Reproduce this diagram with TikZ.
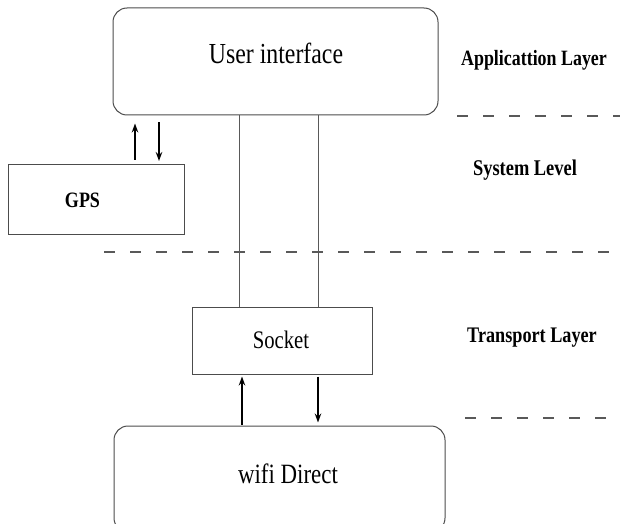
\documentclass[tikz,border=0pt]{standalone}
\usepackage{fontspec}
\setmainfont{Liberation Serif}
\usetikzlibrary{arrows.meta}
% text set slightly taller than its natural shape
\newcommand{\tallset}[1]{\scalebox{1}[1.22]{#1}}
\begin{document}
\begin{tikzpicture}[x=1pt,y=-1pt,
  boxline/.style={draw=black!70, line width=1pt},
  roundbox/.style={boxline, rounded corners=14pt, inner sep=0pt},
  plainbox/.style={boxline, inner sep=0pt},
  boxtext/.style={inner sep=0pt},
  layertext/.style={font=\bfseries, inner sep=0pt},
  link/.style={draw=black!65, line width=0.9pt},
  flow/.style={draw=black, line width=1.6pt, -{Stealth[length=9pt,width=6.5pt]}},
  divider/.style={draw=black!65, line width=1.1pt, dash pattern=on 11pt off 15pt}
]
\useasboundingbox (0,0) rectangle (627,524);

% layer boxes
\node[roundbox, minimum width=325pt, minimum height=107pt] (ui) at (275.5,61.5) {};
\node[boxtext, font=\fontsize{23.8}{26}\selectfont] (uitext) at (276,53) {\tallset{User interface}};

\node[plainbox, minimum width=176pt, minimum height=70pt] (gps) at (96,199.5) {};
\node[boxtext, font=\bfseries\fontsize{18}{20}\selectfont] (gpstext) at (82.5,200) {\tallset{GPS}};

\node[plainbox, minimum width=180pt, minimum height=67pt] (sock) at (282,340.5) {};
\node[boxtext, font=\fontsize{20.7}{23}\selectfont] (socktext) at (281,340) {\tallset{Socket}};

\node[roundbox, minimum width=331pt, minimum height=106pt] (wifi) at (279.5,479) {};
\node[boxtext, font=\fontsize{22.9}{25}\selectfont] (wifitext) at (288,474) {\tallset{wifi Direct}};

% layer names
\node[layertext, font=\bfseries\fontsize{17.9}{20}\selectfont] (app) at (534,60) {\tallset{Applicattion Layer}};
\node[layertext, font=\bfseries\fontsize{18.4}{20}\selectfont] (sys) at (525,170) {\tallset{System Level}};
\node[layertext, font=\bfseries\fontsize{18.2}{20}\selectfont] (trans) at (532,338) {\tallset{Transport Layer}};

% links between user interface and socket
\draw[link] (ui.south -| 239,0) -- (sock.north -| 239,0);
\draw[link] (ui.south -| 318,0) -- (sock.north -| 318,0);

% GPS exchange
\draw[flow, shorten <=4pt, shorten >=8pt] (gps.north -| 135,0) -- (ui.south -| 135,0);
\draw[flow, shorten <=7pt, shorten >=3pt] (ui.south -| 159,0) -- (gps.north -| 159,0);

% socket exchange
\draw[flow, shorten <=1pt, shorten >=2pt] (wifi.north -| 242,0) -- (sock.south -| 242,0);
\draw[flow, shorten <=2pt, shorten >=3pt] (sock.south -| 318,0) -- (wifi.north -| 318,0);

% layer dividers
\draw[divider] (457,116) -- (620,116);
\draw[divider] (104,252) -- (617,252);
\draw[divider] (465,418) -- (620,418);
\end{tikzpicture}
\end{document}
